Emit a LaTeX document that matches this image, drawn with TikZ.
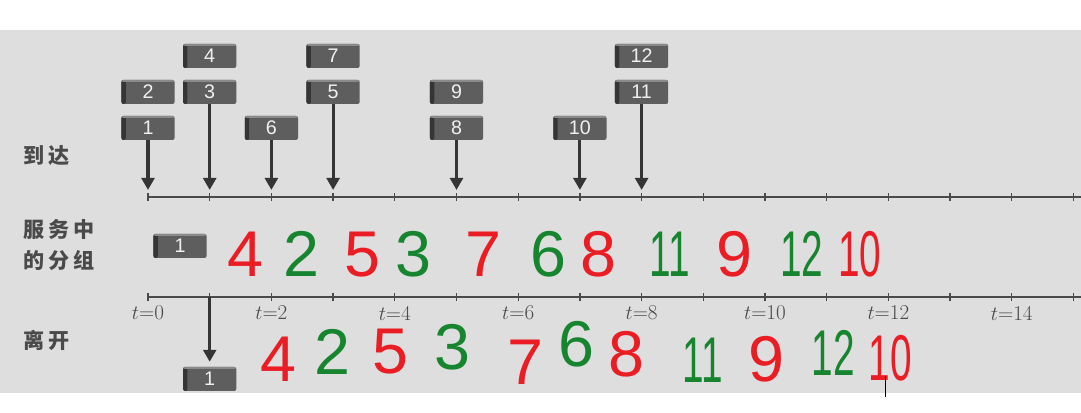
\documentclass[tikz,border=0pt]{standalone}
\usepackage{fontspec}
\setsansfont{Liberation Sans}
\newfontfamily\cjk[LetterSpace=18]{Noto Sans CJK SC}
\usetikzlibrary{arrows.meta}

\definecolor{paper}{HTML}{DEDEDE}
\definecolor{ink}{HTML}{4A4A4A}
\definecolor{pktbody}{HTML}{5E5E5E}
\definecolor{pktside}{HTML}{353535}
\definecolor{pkttop}{HTML}{8A8A8A}
\definecolor{hwred}{HTML}{EA1D25}
\definecolor{hwgreen}{HTML}{17852F}

\tikzset{
  pkt/.style={fill=pktbody, text=white!88!gray, font=\sffamily\fontsize{14}{14}\selectfont,
    minimum width=1.33cm, minimum height=0.6cm, inner sep=0pt,
    rounded corners=1.5pt,
    path picture={
      \fill[pktside] (path picture bounding box.north west) rectangle
        ([xshift=0.11cm]path picture bounding box.south west);
      \fill[pkttop] (path picture bounding box.north west) rectangle
        ([yshift=-0.05cm]path picture bounding box.north east);
    }},
  arr/.style={->, draw=pktside, line width=2.2pt},
  axis/.style={draw=ink, line width=0.9pt},
  tlabel/.style={text=ink, font=\fontsize{15}{15}\selectfont, inner sep=0pt},
  lbl/.style={text=ink, font=\cjk\bfseries\fontsize{15}{21.5}\selectfont, inner sep=0pt, anchor=west},
  hw/.style={font=\sffamily\fontsize{46}{46}\selectfont, inner sep=0pt,
    text height=33pt, text depth=0pt},
  two/.style={xscale=0.6, transform shape}
}

\begin{document}
\begin{tikzpicture}[x=0.025cm, y=0.025cm, >={Triangle[length=0.3cm, width=0.32cm]}]
\useasboundingbox (0,0) rectangle (1081,413);
\fill[paper] (0,20) rectangle (1081,383);

% row labels
\node[lbl] (arrive) at (23,257) {到达};
\node[lbl, align=left] (serve) at (23,168) {服务中\\的分组};
\node[lbl] (leave) at (23,73) {离开};

% the two time axes
\draw[axis] (148,216) -- (1081,216);
\draw[axis] (148,116) -- (1081,116);
\foreach \k in {0,...,15}{
  \coordinate (a\k) at ({148+61.7*\k},216);
  \coordinate (d\k) at ({148+61.7*\k},116);
  \draw[axis] ([yshift=-3pt]a\k) -- ([yshift=3pt]a\k);
  \draw[axis] ([yshift=-3pt]d\k) -- ([yshift=3pt]d\k);
}
\foreach \k in {0,2,...,14}
  \node[tlabel] (t\k) at ({148+61.7*\k},100) {$t$=\k};

% arriving packets (number / slot / row)
\foreach \n/\k/\r in {1/0/1, 2/0/2, 3/1/2, 4/1/3, 6/2/1, 5/3/2, 7/3/3,
                      8/5/1, 9/5/2, 10/7/1, 11/8/2, 12/8/3}
  \node[pkt] (p\n) at ({148+61.7*\k},{249+36*\r}) {\n};
\foreach \n/\k in {1/0, 3/1, 6/2, 5/3, 8/5, 10/7, 11/8}
  \draw[arr] (p\n.south) -- ([yshift=5pt]a\k);

% in service and leaving
\node[pkt] (srv) at (180,167) {1};
\node[pkt] (out) at ({148+61.7},34) {1};
\draw[arr, shorten >=3.5pt] (d1) -- (out.north);

% handwritten order
\foreach \n/\x/\c in {4/245/hwred, 2/301/hwgreen, 5/362/hwred, 3/413/hwgreen,
                      7/483/hwred, 6/548/hwgreen, 8/598/hwred, 9/734/hwred}
  \node[hw, text=\c] (s\n) at (\x,160) {\n};
\foreach \n/\x/\c in {11/670/hwgreen, 12/802/hwgreen, 10/860/hwred}
  \node[hw, text=\c, two] (s\n) at (\x,160) {\n};
\node[hw, text=hwred] (l4) at (278,55) {4};
\node[hw, text=hwgreen] (l2) at (332,62) {2};
\node[hw, text=hwred] (l5) at (390,63) {5};
\node[hw, text=hwgreen] (l3) at (452,67) {3};
\node[hw, text=hwred] (l7) at (525,52) {7};
\node[hw, text=hwgreen] (l6) at (576,70) {6};
\node[hw, text=hwred] (l8) at (626,60) {8};
\node[hw, text=hwgreen, two] (l11) at (703,54) {11};
\node[hw, text=hwred] (l9) at (766,55) {9};
\node[hw, text=hwgreen, two] (l12) at (833,61) {12};
\node[hw, text=hwred, two] (l10) at (890,56) {10};

% stray cursor mark
\draw[black, line width=0.6pt] (885,16) -- (885,37);
\end{tikzpicture}
\end{document}
